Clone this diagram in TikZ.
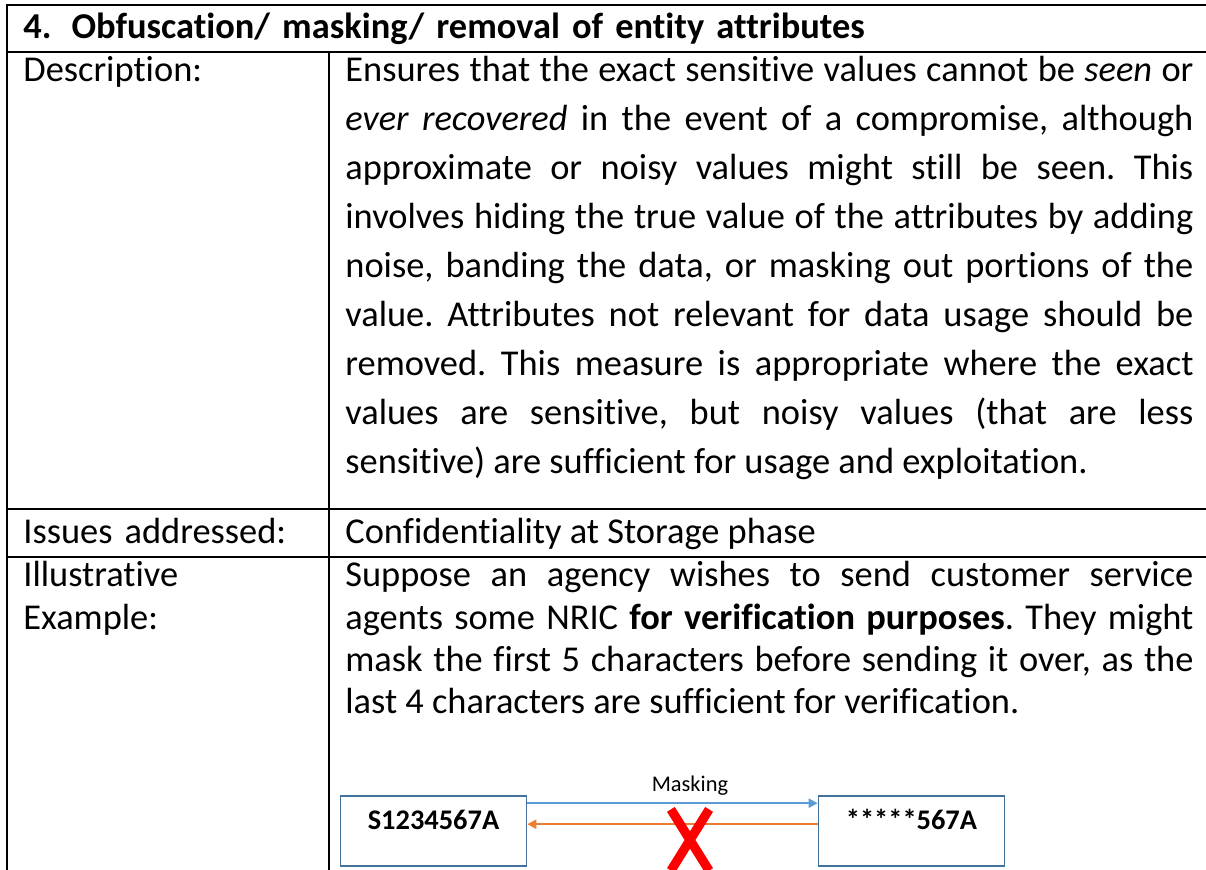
\documentclass[tikz,border=0pt]{standalone}
\usepackage{fontspec}
\setmainfont{Carlito}[Ligatures=NoCommon]
\usepackage{xcolor}
\usepackage{tikz}
\usetikzlibrary{
    arrows.meta,
    positioning,
    calc,
    shapes.misc
}
\frenchspacing
\definecolor{obBorder}{HTML}{41719C}
\definecolor{obBlue}{HTML}{5B9BD5}
\definecolor{obOrange}{HTML}{ED7D31}
\definecolor{obRed}{HTML}{FF0000}
\tikzset{
    obRule/.style={line width=1pt,draw=black,line cap=rect},
    obLabel/.style={
        anchor=base west,
        inner sep=0pt,
        text width=150pt,
        align=left,
        font=\fontsize{18.2}{21.15}\selectfont
    },
    obCell/.style={
        obLabel,
        text width=424pt,
        align=justify
    },
    obBox/.style={
        draw=obBorder,
        line width=0.8pt,
        anchor=base,
        minimum width=93pt,
        text height=17pt,
        text depth=18pt,
        inner sep=0pt,
        font=\fontsize{14.2}{16}\selectfont\bfseries
    },
    obArrow/.style={-{Triangle[length=4.5pt,width=4.5pt]},line width=1pt},
    obCross/.style={cross out,draw=obRed,line width=4.6pt,minimum width=14.5pt,minimum height=26pt,inner sep=0pt}
}

\begin{document}
\begin{tikzpicture}[x=0.5pt,y=-0.5pt]
        \useasboundingbox (0,0) rectangle (1206,870);
        \clip (0,0) rectangle (1206,870);

        \draw[obRule] (1215,5) -- (7,5) -- (7,880);
        \draw[obRule] (7,52) -- (1215,52);
        \draw[obRule] (7,509) -- (1215,509);
        \draw[obRule] (7,557) -- (1215,557);
        \draw[obRule] (329,52) -- (329,880);

        \node[obLabel,text width=580pt,font=\fontsize{18.2}{21}\selectfont\bfseries] (title) at (23,39)
            {4.\hspace{10pt}Obfuscation/ masking/ removal of entity attributes};

        \node[obLabel] (desclabel) at (23,82) {Description:};
        \node[obCell,font=\fontsize{18.2}{24.45}\selectfont] (desc) at (345,82)
            {Ensures that the exact sensitive values cannot be \textit{seen} or\linebreak
             \textit{ever recovered} in the event of a compromise, although\linebreak
             approximate or noisy values might still be seen. This\linebreak
             involves hiding the true value of the attributes by adding\linebreak
             noise, banding the data, or masking out portions of the\linebreak
             value. Attributes not relevant for data usage should be\linebreak
             removed. This measure is appropriate where the exact\linebreak
             values are sensitive, but noisy values (that are less\linebreak
             sensitive) are sufficient for usage and exploitation.};

        \node[obLabel] (issuelabel) at (23,544) {Issues addressed:};
        \node[obCell] (issue) at (345,544) {Confidentiality at Storage phase};

        \node[obLabel] (examplelabel) at (23,587) {Illustrative\\Example:};
        \node[obCell] (example) at (345,587)
            {Suppose an agency wishes to send customer service\linebreak
             agents some NRIC \textbf{for verification purposes}. They might\linebreak
             mask the first 5 characters before sending it over, as the\linebreak
             last 4 characters are sufficient for verification.};

        \node[obBox] (plain) at (433.5,830) {S1234567A};
        \node[obBox] (masked) at (911.5,830) {*****567A};

        \draw[obArrow,draw=obBlue] ([yshift=-4pt]plain.north east) --
            node[pos=0.56,above=3.5pt,inner sep=0pt,font=\fontsize{11.2}{13}\selectfont] (masklabel) {Masking}
            ([yshift=-4pt]masked.north west);
        \draw[obArrow,draw=obOrange] ([yshift=-14.5pt]masked.north west) -- ([yshift=-14.5pt]plain.north east);

        \node[obCross] (cross) at (690,840) {};
    \end{tikzpicture}
\end{document}
